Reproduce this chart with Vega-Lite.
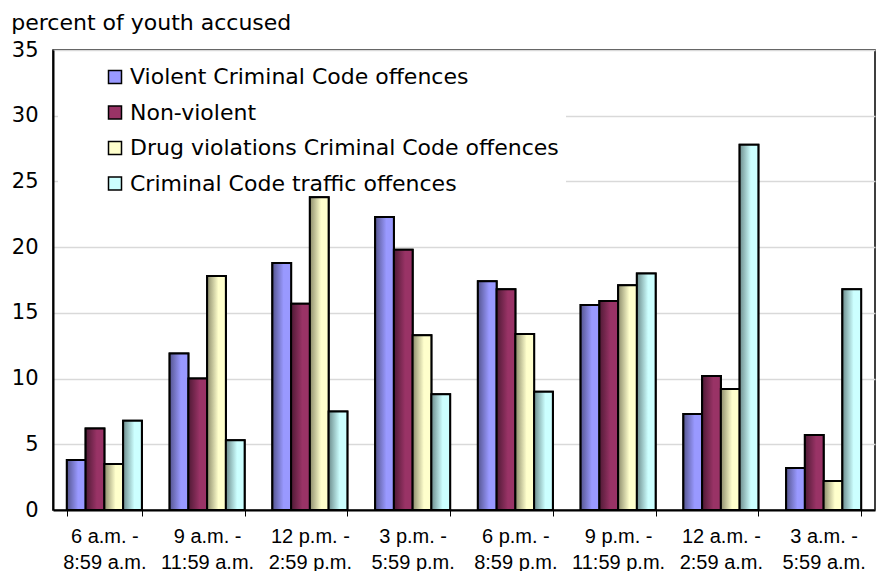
{
  "$schema": "https://vega.github.io/schema/vega-lite/v6.json",
  "autosize": "none",
  "width": 822,
  "height": 460,
  "padding": {"left": 53, "top": 50, "right": 1, "bottom": 61},
  "background": "white",
  "title": {"text": "percent of youth accused", "anchor": "start", "frame": "bounds", "font": "DejaVu Sans", "fontSize": 22, "fontWeight": "normal", "color": "black", "offset": 4},
  "config": {
    "font": "DejaVu Sans",
    "view": {"stroke": "black", "strokeWidth": 1.5},
    "axis": {"labelFont": "DejaVu Sans", "labelColor": "black", "domainColor": "black", "tickColor": "black"}
  },
  "data": {"values": [
    {"time": "6 a.m. -|8:59 a.m.", "type": "Violent  Criminal Code offences", "value": 3.8},
    {"time": "6 a.m. -|8:59 a.m.", "type": "Non-violent", "value": 6.2},
    {"time": "6 a.m. -|8:59 a.m.", "type": "Drug violations  Criminal Code offences", "value": 3.5},
    {"time": "6 a.m. -|8:59 a.m.", "type": "Criminal Code traffic offences", "value": 6.8},
    {"time": "9 a.m. -|11:59 a.m.", "type": "Violent  Criminal Code offences", "value": 11.9},
    {"time": "9 a.m. -|11:59 a.m.", "type": "Non-violent", "value": 10.0},
    {"time": "9 a.m. -|11:59 a.m.", "type": "Drug violations  Criminal Code offences", "value": 17.8},
    {"time": "9 a.m. -|11:59 a.m.", "type": "Criminal Code traffic offences", "value": 5.3},
    {"time": "12 p.m. -|2:59 p.m.", "type": "Violent  Criminal Code offences", "value": 18.8},
    {"time": "12 p.m. -|2:59 p.m.", "type": "Non-violent", "value": 15.7},
    {"time": "12 p.m. -|2:59 p.m.", "type": "Drug violations  Criminal Code offences", "value": 23.8},
    {"time": "12 p.m. -|2:59 p.m.", "type": "Criminal Code traffic offences", "value": 7.5},
    {"time": "3 p.m. -|5:59 p.m.", "type": "Violent  Criminal Code offences", "value": 22.3},
    {"time": "3 p.m. -|5:59 p.m.", "type": "Non-violent", "value": 19.8},
    {"time": "3 p.m. -|5:59 p.m.", "type": "Drug violations  Criminal Code offences", "value": 13.3},
    {"time": "3 p.m. -|5:59 p.m.", "type": "Criminal Code traffic offences", "value": 8.8},
    {"time": "6 p.m. -|8:59 p.m.", "type": "Violent  Criminal Code offences", "value": 17.4},
    {"time": "6 p.m. -|8:59 p.m.", "type": "Non-violent", "value": 16.8},
    {"time": "6 p.m. -|8:59 p.m.", "type": "Drug violations  Criminal Code offences", "value": 13.4},
    {"time": "6 p.m. -|8:59 p.m.", "type": "Criminal Code traffic offences", "value": 9.0},
    {"time": "9 p.m. -|11:59 p.m.", "type": "Violent  Criminal Code offences", "value": 15.6},
    {"time": "9 p.m. -|11:59 p.m.", "type": "Non-violent", "value": 15.9},
    {"time": "9 p.m. -|11:59 p.m.", "type": "Drug violations  Criminal Code offences", "value": 17.1},
    {"time": "9 p.m. -|11:59 p.m.", "type": "Criminal Code traffic offences", "value": 18.0},
    {"time": "12 a.m. -|2:59 a.m.", "type": "Violent  Criminal Code offences", "value": 7.3},
    {"time": "12 a.m. -|2:59 a.m.", "type": "Non-violent", "value": 10.2},
    {"time": "12 a.m. -|2:59 a.m.", "type": "Drug violations  Criminal Code offences", "value": 9.2},
    {"time": "12 a.m. -|2:59 a.m.", "type": "Criminal Code traffic offences", "value": 27.8},
    {"time": "3 a.m. -|5:59 a.m.", "type": "Violent  Criminal Code offences", "value": 3.2},
    {"time": "3 a.m. -|5:59 a.m.", "type": "Non-violent", "value": 5.7},
    {"time": "3 a.m. -|5:59 a.m.", "type": "Drug violations  Criminal Code offences", "value": 2.2},
    {"time": "3 a.m. -|5:59 a.m.", "type": "Criminal Code traffic offences", "value": 16.8}
  ]},
  "encoding": {
    "x": {"field": "time", "type": "nominal", "sort": null,
      "scale": {"paddingInner": 0.27, "paddingOuter": 0.135},
      "axis": {"title": null, "labelAngle": 0, "labelExpr": "split(datum.label, '|')", "labelFont": "Liberation Sans", "labelFontSize": 20, "labelLineHeight": 26, "labelPadding": 10, "tickBand": "extent", "tickSize": 6, "domainWidth": 2, "labelBaseline": "top"}},
    "xOffset": {"field": "type", "type": "nominal",
      "sort": ["Violent  Criminal Code offences", "Non-violent", "Drug violations  Criminal Code offences", "Criminal Code traffic offences"],
      "scale": {"paddingInner": 0, "paddingOuter": 0}},
    "y": {"field": "value", "type": "quantitative",
      "scale": {"domain": [0, 35], "nice": false},
      "axis": {"title": null, "values": [0, 5, 10, 15, 20, 25, 30, 35], "labelFontSize": 21, "ticks": false, "labelPadding": 15, "domainWidth": 2, "gridColor": "#d9d9d9", "gridWidth": 1.5}}
  },
  "layer": [
    {
      "mark": {"type": "bar", "stroke": "black", "strokeWidth": 2},
      "encoding": {
        "color": {"field": "type", "type": "nominal",
          "scale": {"domain": ["Violent  Criminal Code offences", "Non-violent", "Drug violations  Criminal Code offences", "Criminal Code traffic offences"],
            "range": ["#9999ff", "#993366", "#ffffcc", "#ccffff"]},
          "legend": {"title": null, "orient": "none", "legendX": 5, "legendY": 16, "fillColor": "white", "padding": 0, "symbolOffset": 46, "symbolType": "square", "symbolSize": 169, "symbolStrokeColor": "black", "symbolStrokeWidth": 1.5, "symbolOpacity": 1, "labelFontSize": 22, "labelFont": "DejaVu Sans", "labelColor": "black", "labelOffset": 4, "rowPadding": 13.5, "labelLimit": 600}}
      }
    },
    {
      "transform": [{"filter": "datum.type === 'Violent  Criminal Code offences'"}],
      "mark": {"type": "bar", "stroke": "black", "strokeWidth": 2,
        "color": {"gradient": "linear", "x1": 0, "x2": 1, "y1": 0, "y2": 0, "stops": [{"offset": 0, "color": "#55558f"}, {"offset": 0.6, "color": "#9999ff"}, {"offset": 1, "color": "#9999ff"}]}}
    },
    {
      "transform": [{"filter": "datum.type === 'Non-violent'"}],
      "mark": {"type": "bar", "stroke": "black", "strokeWidth": 2,
        "color": {"gradient": "linear", "x1": 0, "x2": 1, "y1": 0, "y2": 0, "stops": [{"offset": 0, "color": "#4f1a35"}, {"offset": 0.6, "color": "#993366"}, {"offset": 1, "color": "#993366"}]}}
    },
    {
      "transform": [{"filter": "datum.type === 'Drug violations  Criminal Code offences'"}],
      "mark": {"type": "bar", "stroke": "black", "strokeWidth": 2,
        "color": {"gradient": "linear", "x1": 0, "x2": 1, "y1": 0, "y2": 0, "stops": [{"offset": 0, "color": "#8c8c6c"}, {"offset": 0.6, "color": "#ffffcc"}, {"offset": 1, "color": "#ffffcc"}]}}
    },
    {
      "transform": [{"filter": "datum.type === 'Criminal Code traffic offences'"}],
      "mark": {"type": "bar", "stroke": "black", "strokeWidth": 2,
        "color": {"gradient": "linear", "x1": 0, "x2": 1, "y1": 0, "y2": 0, "stops": [{"offset": 0, "color": "#6c8c8c"}, {"offset": 0.6, "color": "#ccffff"}, {"offset": 1, "color": "#ccffff"}]}}
    }
  ]
}
